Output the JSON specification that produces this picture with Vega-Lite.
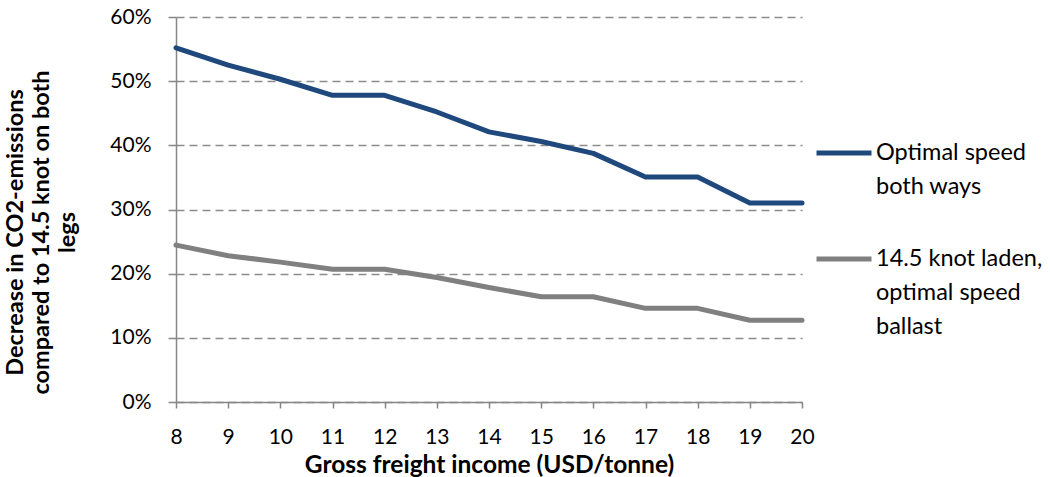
{
  "$schema": "https://vega.github.io/schema/vega-lite/v6.json",
  "width": 626,
  "height": 385,
  "autosize": {"type": "none"},
  "padding": {"left": 176, "top": 17, "right": 248, "bottom": 75},
  "background": "white",
  "config": {
    "font": "Lato",
    "view": {"stroke": null},
    "style": {"guide-label": {"lineHeight": 34}}
  },
  "data": {
    "values": [
      {"x": 8, "s": "Optimal speed both ways", "v": 0.552},
      {"x": 9, "s": "Optimal speed both ways", "v": 0.525},
      {"x": 10, "s": "Optimal speed both ways", "v": 0.503},
      {"x": 11, "s": "Optimal speed both ways", "v": 0.478},
      {"x": 12, "s": "Optimal speed both ways", "v": 0.478},
      {"x": 13, "s": "Optimal speed both ways", "v": 0.452},
      {"x": 14, "s": "Optimal speed both ways", "v": 0.421},
      {"x": 15, "s": "Optimal speed both ways", "v": 0.406},
      {"x": 16, "s": "Optimal speed both ways", "v": 0.3875},
      {"x": 17, "s": "Optimal speed both ways", "v": 0.3505},
      {"x": 18, "s": "Optimal speed both ways", "v": 0.3505},
      {"x": 19, "s": "Optimal speed both ways", "v": 0.310},
      {"x": 20, "s": "Optimal speed both ways", "v": 0.310},
      {"x": 8, "s": "14.5 knot laden, optimal speed ballast", "v": 0.2445},
      {"x": 9, "s": "14.5 knot laden, optimal speed ballast", "v": 0.228},
      {"x": 10, "s": "14.5 knot laden, optimal speed ballast", "v": 0.218},
      {"x": 11, "s": "14.5 knot laden, optimal speed ballast", "v": 0.207},
      {"x": 12, "s": "14.5 knot laden, optimal speed ballast", "v": 0.207},
      {"x": 13, "s": "14.5 knot laden, optimal speed ballast", "v": 0.194},
      {"x": 14, "s": "14.5 knot laden, optimal speed ballast", "v": 0.1785},
      {"x": 15, "s": "14.5 knot laden, optimal speed ballast", "v": 0.164},
      {"x": 16, "s": "14.5 knot laden, optimal speed ballast", "v": 0.164},
      {"x": 17, "s": "14.5 knot laden, optimal speed ballast", "v": 0.146},
      {"x": 18, "s": "14.5 knot laden, optimal speed ballast", "v": 0.146},
      {"x": 19, "s": "14.5 knot laden, optimal speed ballast", "v": 0.1275},
      {"x": 20, "s": "14.5 knot laden, optimal speed ballast", "v": 0.1275}
    ]
  },
  "mark": {"type": "line", "strokeWidth": 5, "strokeJoin": "round", "strokeCap": "round"},
  "encoding": {
    "x": {
      "field": "x",
      "type": "quantitative",
      "scale": {"domain": [8, 20], "nice": false, "zero": false},
      "axis": {
        "values": [8, 9, 10, 11, 12, 13, 14, 15, 16, 17, 18, 19, 20],
        "title": "Gross freight income (USD/tonne)",
        "titleFontSize": 24.5,
        "titleFontWeight": "bold",
        "titleColor": "#000000",
        "titlePadding": 6,
        "labelFontSize": 21,
        "labelColor": "#000000",
        "labelPadding": 18,
        "labelFlush": false,
        "domainColor": "#868686",
        "domainWidth": 1.5,
        "tickColor": "#868686",
        "tickWidth": 1.5,
        "tickSize": 6,
        "grid": false
      }
    },
    "y": {
      "field": "v",
      "type": "quantitative",
      "scale": {"domain": [0, 0.6], "nice": false},
      "axis": {
        "values": [0, 0.1, 0.2, 0.3, 0.4, 0.5, 0.6],
        "format": ".0%",
        "title": ["Decrease in CO2-emissions", "compared to 14.5 knot on both", "legs"],
        "titleFontSize": 23.5,
        "titleFontWeight": "bold",
        "titleColor": "#000000",
        "titleLineHeight": 26,
        "titlePadding": 30,
        "titleY": 215,
        "labelFontSize": 21,
        "labelColor": "#000000",
        "labelPadding": 17,
        "domainColor": "#868686",
        "domainWidth": 1.5,
        "tickColor": "#868686",
        "tickWidth": 1.5,
        "tickSize": 8,
        "grid": true,
        "gridColor": "#8c8c8c",
        "gridWidth": 1.4,
        "gridDash": [8, 5]
      }
    },
    "color": {
      "field": "s",
      "type": "nominal",
      "sort": ["Optimal speed both ways", "14.5 knot laden, optimal speed ballast"],
      "scale": {
        "domain": ["Optimal speed both ways", "14.5 knot laden, optimal speed ballast"],
        "range": ["#1F497D", "#808080"]
      },
      "legend": {
        "title": null,
        "orient": "none",
        "legendX": 638,
        "legendY": 106,
        "symbolType": "stroke",
        "symbolSize": 3025,
        "symbolStrokeWidth": 5,
        "labelExpr": "datum.label == 'Optimal speed both ways' ? ['Optimal speed', 'both ways'] : ['14.5 knot laden,', 'optimal speed', 'ballast']",
        "labelFontSize": 23.5,
        "labelColor": "#000000",
        "labelBaseline": "middle",
        "labelOffset": 2,
        "labelLimit": 400,
        "rowPadding": 30
      }
    }
  }
}
